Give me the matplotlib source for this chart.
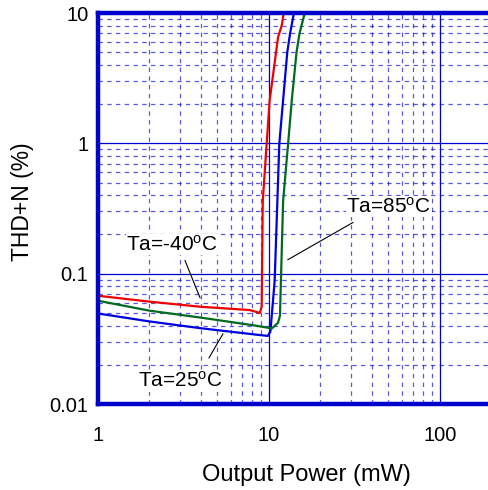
import matplotlib
matplotlib.use("Agg")
import matplotlib.pyplot as plt
from matplotlib.ticker import LogLocator, FixedLocator, NullFormatter

plt.rcParams['font.family'] = ['Liberation Sans', 'DejaVu Sans']
plt.rcParams['mathtext.default'] = 'regular'

# THD+N vs output power, three temperatures
red_x = [1, 2, 4, 7.7, 8.85, 9.07, 9.1, 9.2, 9.7, 10.1, 11.3, 11.9, 12.2]
red_y = [0.0677, 0.061, 0.0557, 0.0526, 0.050, 0.056, 0.088, 0.36, 1.0, 2.14, 6.5, 8.1, 10]

blue_x = [1, 2, 3.95, 8.5, 9.85, 10.2, 10.8, 11.2, 11.5, 12.1, 12.8, 13.3, 14.0]
blue_y = [0.0495, 0.043, 0.0382, 0.034, 0.0333, 0.036, 0.088, 0.36, 1.0, 2.14, 5.0, 7.0, 10]

green_x = [1, 2, 3.95, 8.5, 10.4, 11.3, 11.6, 12.1, 12.95, 13.6, 14.5, 15.1, 16.2]
green_y = [0.062, 0.052, 0.0461, 0.0398, 0.038, 0.042, 0.0475, 0.36, 1.0, 2.14, 5.0, 7.0, 10]

labels = ['Ta=-40$^{o}$C', 'Ta=25$^{o}$C', 'Ta=85$^{o}$C']
label_pos = [(2.71, 0.167), (3.02, 0.0150), (50.3, 0.328)]
leader_from = [(3.23, 0.126), (4.46, 0.0226), (31.0, 0.247)]
leader_to = [(3.95, 0.0654), (5.38, 0.0345), (12.9, 0.128)]

x_ticks = [1, 10, 100]
y_ticks = [0.01, 0.1, 1, 10]
y_ticklabels = ['0.01', '0.1', '1', '10']

gridblue = '#0000CC'

fig = plt.figure(figsize=(4.88, 4.90), dpi=100)
ax = fig.add_axes([98 / 488, 1 - 404 / 490, 1 - 98 / 488 + 0.01, (404 - 13) / 490])
ax.set_xscale('log')
ax.set_yscale('log')
ax.set_xlim(1, 10 ** ((488 - 98 + 5) / 171))
ax.set_ylim(0.01, 10)

ax.xaxis.set_major_locator(FixedLocator(x_ticks))
ax.xaxis.set_minor_locator(LogLocator(base=10, subs=range(2, 10), numticks=20))
ax.yaxis.set_major_locator(FixedLocator(y_ticks))
ax.yaxis.set_minor_locator(LogLocator(base=10, subs=range(2, 10), numticks=20))
ax.xaxis.set_minor_formatter(NullFormatter())
ax.yaxis.set_minor_formatter(NullFormatter())
ax.set_xticklabels(['1', '10', '100'])
ax.set_yticklabels(y_ticklabels)

ax.grid(True, which='major', color=gridblue, linewidth=0.9)
ax.grid(True, which='minor', color=gridblue, linewidth=0.9, alpha=0.65,
        linestyle=(0, (3.5, 3.5)))
ax.set_axisbelow(True)

ax.tick_params(which='both', length=0)
ax.tick_params(axis='x', labelsize=14.5, pad=16)
ax.tick_params(axis='y', labelsize=14.5, pad=7)

for s in ['left', 'top', 'bottom']:
    ax.spines[s].set_color(gridblue)
    ax.spines[s].set_linewidth(3.2)
ax.spines['right'].set_visible(False)

ax.plot(red_x, red_y, color='#EE0000', linewidth=1.6)
ax.plot(blue_x, blue_y, color='#0000DD', linewidth=1.6)
ax.plot(green_x, green_y, color='#006A1E', linewidth=1.6)

for lab, pos, p0, p1 in zip(labels, label_pos, leader_from, leader_to):
    ax.plot([p0[0], p1[0]], [p0[1], p1[1]], color='black', linewidth=0.8)
    ax.text(pos[0], pos[1], lab, fontsize=15, ha='center', va='center',
            bbox=dict(facecolor='white', edgecolor='none', pad=0.5))

fig.text(306 / 488, 1 - 475 / 490, 'Output Power (mW)', fontsize=17,
         ha='center', va='center')
fig.text(23 / 488, 1 - 202 / 490, 'THD+N (%)', fontsize=16.5, rotation=90,
         ha='center', va='center')

fig.savefig('out.png', dpi=100)
